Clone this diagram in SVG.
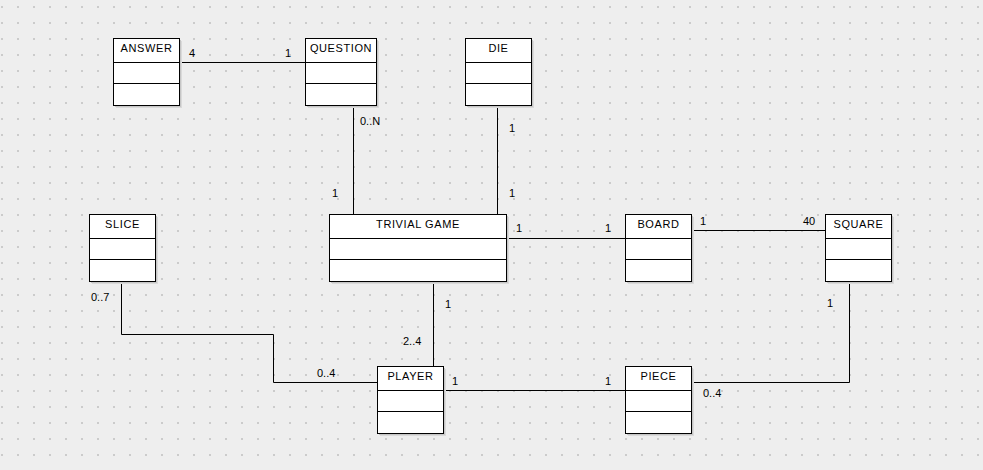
<svg xmlns="http://www.w3.org/2000/svg" width="983" height="470" viewBox="0 0 983 470">
<style>
.box{fill:#ffffff;stroke:#000000;stroke-width:1}
.sh1{fill:#c6c6c6}
.sh2{fill:#dadada}
.div{stroke:#000000;stroke-width:1}
.title{font-family:"Liberation Sans",Arial,sans-serif;font-size:11px;letter-spacing:0.6px;text-anchor:middle;fill:#000000}
.lbl{font-family:"Liberation Sans",Arial,sans-serif;font-size:11px;fill:#000000}
.con{fill:none;stroke:#000000;stroke-width:1}
</style>
<defs>
<pattern id="grid" x="0" y="0" width="16" height="16" patternUnits="userSpaceOnUse">
<rect x="1" y="6" width="2" height="2" fill="#cbcbcb"/>
</pattern>
</defs>
<rect x="0" y="0" width="983" height="470" fill="#eeeeee"/>
<rect x="0" y="0" width="983" height="470" fill="url(#grid)"/>

<g id="connectors">
<path class="con" d="M179 62.5H305"/>
<path class="con" d="M353.5 106V214"/>
<path class="con" d="M497.5 106V214"/>
<path class="con" d="M506 238.5H625"/>
<path class="con" d="M690 230.5H825"/>
<path class="con" d="M849.5 281V382.5H690"/>
<path class="con" d="M443 390.5H625"/>
<path class="con" d="M433.5 281V366"/>
<path class="con" d="M121.5 281V334.5H273.5V382.5H377"/>
<text class="lbl" x="189" y="57">4</text>
<text class="lbl" x="285" y="57">1</text>
<text class="lbl" x="360" y="125">0..N</text>
<text class="lbl" x="332" y="197">1</text>
<text class="lbl" x="509" y="132">1</text>
<text class="lbl" x="509" y="197">1</text>
<text class="lbl" x="516" y="232">1</text>
<text class="lbl" x="605" y="232">1</text>
<text class="lbl" x="700" y="225">1</text>
<text class="lbl" x="803" y="225">40</text>
<text class="lbl" x="827" y="307">1</text>
<text class="lbl" x="703" y="397">0..4</text>
<text class="lbl" x="452" y="385">1</text>
<text class="lbl" x="605" y="385">1</text>
<text class="lbl" x="445" y="308">1</text>
<text class="lbl" x="403" y="345">2..4</text>
<text class="lbl" x="91" y="301">0..7</text>
<text class="lbl" x="317" y="377">0..4</text>
</g>

<g id="answer">
<rect class="sh2" x="116" y="41" width="66" height="67"/>
<rect class="sh1" x="115" y="40" width="66" height="67"/>
<rect class="box" x="113.5" y="38.5" width="66" height="67"/>
<path class="div" d="M113.5 62.5H179.5M113.5 83.5H179.5"/>
<text class="title" x="146.5" y="52">ANSWER</text>
</g>

<g id="question">
<rect class="sh2" x="308" y="41" width="71" height="67"/>
<rect class="sh1" x="307" y="40" width="71" height="67"/>
<rect class="box" x="305.5" y="38.5" width="71" height="67"/>
<path class="div" d="M305.5 62.5H376.5M305.5 83.5H376.5"/>
<text class="title" x="341" y="52">QUESTION</text>
</g>

<g id="die">
<rect class="sh2" x="468" y="41" width="66" height="67"/>
<rect class="sh1" x="467" y="40" width="66" height="67"/>
<rect class="box" x="465.5" y="38.5" width="66" height="67"/>
<path class="div" d="M465.5 62.5H531.5M465.5 83.5H531.5"/>
<text class="title" x="498.5" y="52">DIE</text>
</g>

<g id="trivial-game">
<rect class="sh2" x="332" y="217" width="177" height="67"/>
<rect class="sh1" x="331" y="216" width="177" height="67"/>
<rect class="box" x="329.5" y="214.5" width="177" height="67"/>
<path class="div" d="M329.5 238.5H506.5M329.5 259.5H506.5"/>
<text class="title" x="418" y="228">TRIVIAL GAME</text>
</g>

<g id="slice">
<rect class="sh2" x="92" y="217" width="66" height="67"/>
<rect class="sh1" x="91" y="216" width="66" height="67"/>
<rect class="box" x="89.5" y="214.5" width="66" height="67"/>
<path class="div" d="M89.5 238.5H155.5M89.5 259.5H155.5"/>
<text class="title" x="122.5" y="228">SLICE</text>
</g>

<g id="board">
<rect class="sh2" x="628" y="217" width="66" height="67"/>
<rect class="sh1" x="627" y="216" width="66" height="67"/>
<rect class="box" x="625.5" y="214.5" width="66" height="67"/>
<path class="div" d="M625.5 238.5H691.5M625.5 259.5H691.5"/>
<text class="title" x="658.5" y="228">BOARD</text>
</g>

<g id="square">
<rect class="sh2" x="828" y="217" width="66" height="67"/>
<rect class="sh1" x="827" y="216" width="66" height="67"/>
<rect class="box" x="825.5" y="214.5" width="66" height="67"/>
<path class="div" d="M825.5 238.5H891.5M825.5 259.5H891.5"/>
<text class="title" x="858.5" y="228">SQUARE</text>
</g>

<g id="player">
<rect class="sh2" x="380" y="369" width="66" height="67"/>
<rect class="sh1" x="379" y="368" width="66" height="67"/>
<rect class="box" x="377.5" y="366.5" width="66" height="67"/>
<path class="div" d="M377.5 390.5H443.5M377.5 411.5H443.5"/>
<text class="title" x="410.5" y="380">PLAYER</text>
</g>

<g id="piece">
<rect class="sh2" x="628" y="369" width="66" height="67"/>
<rect class="sh1" x="627" y="368" width="66" height="67"/>
<rect class="box" x="625.5" y="366.5" width="66" height="67"/>
<path class="div" d="M625.5 390.5H691.5M625.5 411.5H691.5"/>
<text class="title" x="658.5" y="380">PIECE</text>
</g>
</svg>
